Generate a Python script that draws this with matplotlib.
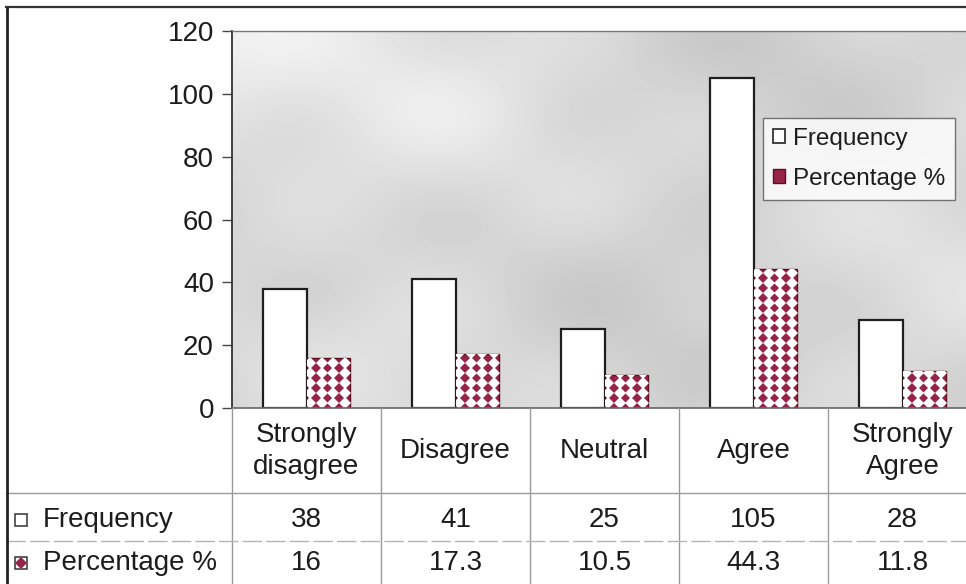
import numpy as np
import matplotlib
matplotlib.use("Agg")
import matplotlib.pyplot as plt
from matplotlib.patches import Patch, Rectangle

plt.rcParams['font.family'] = ['Liberation Sans', 'DejaVu Sans']

categories = ["Strongly\ndisagree", "Disagree", "Neutral", "Agree", "Strongly\nAgree"]
frequency = [38, 41, 25, 105, 28]
percentage = [16, 17.3, 10.5, 44.3, 11.8]
series_names = ["Frequency", "Percentage %"]
y_ticks = [0, 20, 40, 60, 80, 100, 120]

W, H = 966, 584
TXT = "#1c1c1c"
MAROON = "#962446"
GRID = "#9a9a9a"
FS = 20

fig = plt.figure(figsize=(W / 100, H / 100), dpi=100)

ax_left, ax_right, ax_top, ax_bot = 232, 977, 31, 408
ax = fig.add_axes([ax_left / W, 1 - ax_bot / H, (ax_right - ax_left) / W, (ax_bot - ax_top) / H])
n = len(categories)
ax.set_xlim(-0.5, n - 0.5)
ax.set_ylim(0, 120)

# mottled grey backdrop of the plotting area
gx, gy = np.meshgrid(np.linspace(0, 1, 200), np.linspace(0, 1, 120))
field = (0.84 + 0.04 * np.sin(7 * gx + 3 * gy) * np.cos(5 * gy - 2 * gx)
         + 0.025 * np.sin(17 * gx) * np.sin(13 * gy + 1)
         + 0.10 * np.clip(1 - np.hypot(gx * 2.2, (1 - gy) * 1.4), 0, 1))
field = np.clip(field, 0, 1)
ax.imshow(field, cmap="gray", vmin=0, vmax=1, extent=[-0.5, n - 0.5, 0, 120],
          origin="lower", aspect="auto", zorder=0, interpolation="bicubic")

x = np.arange(n)
bw = 0.29
ax.bar(x - bw / 2, frequency, bw, color="white", edgecolor="#1e1e1e", linewidth=1.6, zorder=3)
pbars = ax.bar(x + bw / 2, percentage, bw, color=MAROON, edgecolor="#5a1020", linewidth=1.0, zorder=3)

# harlequin diamond fill on the percentage bars
col_px = (ax_right - ax_left) / n
dx_data = 11.7 / col_px
dy_data = 10.0 / (ax_bot - ax_top) * 120
for rect in pbars:
    x0 = rect.get_x()
    w = rect.get_width()
    h = rect.get_height()
    xs = np.arange(x0 + dx_data * 0.3, x0 + w + dx_data, dx_data)
    ys = np.arange(dy_data * 0.5, h + dy_data, dy_data)
    XX, YY = np.meshgrid(xs, ys)
    pts, = ax.plot(XX.ravel(), YY.ravel(), linestyle="none", marker="D", markersize=6.6,
                   markerfacecolor="white", markeredgewidth=0, zorder=4)
    pts.set_clip_path(rect)

ax.set_xticks([])
ax.set_yticks(y_ticks)
ax.tick_params(axis="y", direction="out", length=7, width=1, color="#444444",
               labelsize=FS, labelcolor=TXT, pad=6)
for s in ["right", "bottom"]:
    ax.spines[s].set_visible(False)
ax.spines["left"].set_color("#333333")
ax.spines["left"].set_linewidth(1.3)
ax.spines["top"].set_color("#777777")
ax.spines["top"].set_linewidth(1.0)

handles = [Patch(facecolor="white", edgecolor="#222222", linewidth=1.2),
           Patch(facecolor=MAROON, edgecolor="#5a1020", linewidth=1.0)]
leg = ax.legend(handles, series_names, loc="upper left",
                bbox_to_anchor=((763 - ax_left) / (ax_right - ax_left), (ax_bot - 118) / (ax_bot - ax_top)),
                fontsize=17.5, frameon=True, fancybox=False, handlelength=0.5, handleheight=0.5,
                handletextpad=0.35, labelspacing=0.75, borderpad=0.4, borderaxespad=0)
leg.get_frame().set_edgecolor("#555555")
leg.get_frame().set_linewidth(1.0)
for t in leg.get_texts():
    t.set_color(TXT)

# data table beneath the plot
ov = fig.add_axes([0, 0, 1, 1], facecolor="none")
ov.set_xlim(0, W)
ov.set_ylim(H, 0)
ov.axis("off")

col_edges = [ax_left + i * col_px for i in range(n + 1)]
row_line1, row_line2 = 493, 541
ov.plot([ax_left, W], [ax_bot, ax_bot], color="#666666", lw=1.2)
for xe in col_edges[:-1]:
    ov.plot([xe, xe], [ax_bot, H], color=GRID, lw=1.0)
ov.plot([6, W], [row_line1, row_line1], color=GRID, lw=1.0)
ov.plot([6, W], [row_line2, row_line2], color="#b5b5b5", lw=1.0, ls=(0, (14, 3)))

# outer frame
ov.plot([6.5, 6.5], [7, H], color="#222222", lw=2.0)
ov.plot([6, W], [7, 7], color="#333333", lw=1.6)

centers = [(col_edges[i] + col_edges[i + 1]) / 2 for i in range(n)]
for cx, lab in zip(centers, categories):
    ov.text(cx, 451, lab, ha="center", va="center", fontsize=FS, color=TXT, linespacing=1.3)
for cx, v in zip(centers, frequency):
    ov.text(cx, 520, f"{v:g}", ha="center", va="center", fontsize=FS, color=TXT)
for cx, v in zip(centers, percentage):
    ov.text(cx, 563, f"{v:g}", ha="center", va="center", fontsize=FS, color=TXT)

ov.add_patch(Rectangle((15, 514), 12, 12, facecolor="white", edgecolor="#333333", lw=1.1))
ov.add_patch(Rectangle((15, 557), 12, 12, facecolor="white", edgecolor="#333333", lw=1.1))
ov.plot([21], [563], marker="D", ms=6, color=MAROON, mew=0)
ov.text(43, 520, series_names[0], ha="left", va="center", fontsize=FS, color=TXT)
ov.text(43, 563, series_names[1], ha="left", va="center", fontsize=FS, color=TXT)

fig.savefig("out.png", dpi=100)
